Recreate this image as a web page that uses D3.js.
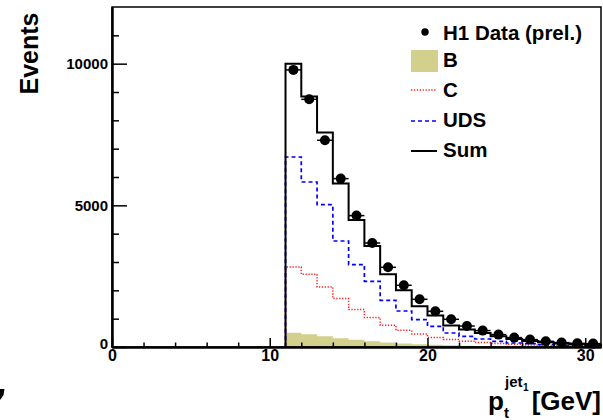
<!DOCTYPE html>
<html><head><meta charset="utf-8">
<script src="https://cdn.jsdelivr.net/npm/d3@7"></script>
<style>
body{margin:0;background:#fff}
svg{display:block}
text{font-family:"Liberation Sans",Arial,Helvetica,sans-serif;font-weight:bold;fill:#000}
</style>
</head><body>
<svg id="c" width="603" height="420"></svg>
<script>
// ---- data ----
const binLowEdges = [11,12,13,14,15,16,17,18,19,20,21,22,23,24,25,26,27,28,29,30];
const binWidth = 1;
const dataValues = [9780,8742,7296,5943,4637,3671,2813,2178,1684,1260,978,741,579,438,332,261,201,155,130,120];
const sumValues  = [10000,8838,7567,5767,4482,3565,2566,2001,1436,1108,755,614,494,378,282,212,166,120,95,71];
const udsValues  = [6706,5824,5025,3741,2908,2319,1648,1271,967,731,494,378,282,201,141,120,85,60,50,40];
const cValues    = [2824,2566,2118,1708,1320,1038,766,589,459,332,261,201,155,120,95,71,60,50,40,35];
const bValues    = [500,450,380,310,260,200,155,120,95,80,60,45,35,25,20,15,12,10,8,6];
const xMajorTicks = [0,10,20,30];
const xMinorTicks = [2,4,6,8,12,14,16,18,22,24,26,28];
const yMajorTicks = [0,5000,10000];
const yMinorTicks = [1000,2000,3000,4000,6000,7000,8000,9000,11000];
const legendLabels = ["H1 Data (prel.)","B","C","UDS","Sum"];
const xDomain = [0,31];
const yDomain = [0,12000];

// ---- layout ----
const L = 112, T = 7, R = 601, B = 347;
const svg = d3.select("#c");
const x = d3.scaleLinear().domain(xDomain).range([L, R]);
const y = d3.scaleLinear().domain(yDomain).range([B, T]);

function histPoints(vals){
  const pts = [[binLowEdges[0], 0]];
  vals.forEach((v,i)=>{
    pts.push([binLowEdges[i], v]);
    pts.push([binLowEdges[i] + binWidth, v]);
  });
  pts.push([binLowEdges[binLowEdges.length-1] + binWidth, 0]);
  return pts;
}
const line = d3.line().x(d=>x(d[0])).y(d=>y(d[1]));
const area = d3.area().x(d=>x(d[0])).y0(y(0)).y1(d=>y(d[1]));

const plot = svg.append("g");
// B filled
plot.append("path").attr("d", area(histPoints(bValues)))
  .attr("fill","#d3cf8c").attr("stroke","none");
// C dotted red
plot.append("path").attr("d", line(histPoints(cValues)))
  .attr("fill","none").attr("stroke","#ff2020").attr("stroke-width",1.5)
  .attr("stroke-dasharray","1.3,1.6");
// UDS dashed blue
plot.append("path").attr("d", line(histPoints(udsValues)))
  .attr("fill","none").attr("stroke","#0000ff").attr("stroke-width",1.7)
  .attr("stroke-dasharray","4,3");
// Sum solid black
plot.append("path").attr("d", line(histPoints(sumValues)))
  .attr("fill","none").attr("stroke","#000").attr("stroke-width",2);

// data points with horizontal error bars
const pts = plot.append("g");
dataValues.forEach((v,i)=>{
  pts.append("line")
    .attr("x1", x(binLowEdges[i])).attr("x2", x(binLowEdges[i]+binWidth))
    .attr("y1", y(v)).attr("y2", y(v))
    .attr("stroke","#000").attr("stroke-width",1.5);
  pts.append("circle")
    .attr("cx", x(binLowEdges[i]+binWidth/2)).attr("cy", y(v))
    .attr("r",5).attr("fill","#000");
});

// frame
svg.append("rect").attr("x",L).attr("y",T).attr("width",R-L).attr("height",B-T)
  .attr("fill","none").attr("stroke","#000").attr("stroke-width",1.5);

// axes
const yAxis = svg.append("g").attr("transform",`translate(${L},0)`)
  .call(d3.axisLeft(y).tickValues(yMajorTicks).tickSizeInner(-15).tickSizeOuter(0).tickPadding(4).tickFormat(d3.format("d")));
const yMinor = svg.append("g").attr("transform",`translate(${L},0)`)
  .call(d3.axisLeft(y).tickValues(yMinorTicks).tickSizeInner(-7).tickSizeOuter(0).tickFormat(""));
const xAxis = svg.append("g").attr("transform",`translate(0,${B})`)
  .call(d3.axisBottom(x).tickValues(xMajorTicks).tickSizeInner(-9).tickSizeOuter(0).tickPadding(3).tickFormat(d3.format("d")));
const xMinor = svg.append("g").attr("transform",`translate(0,${B})`)
  .call(d3.axisBottom(x).tickValues(xMinorTicks).tickSizeInner(-4.5).tickSizeOuter(0).tickFormat(""));
[yAxis,yMinor,xAxis,xMinor].forEach(g=>{
  g.selectAll(".domain").attr("stroke","#000").attr("stroke-width",2);
  g.selectAll(".tick line").attr("stroke","#000").attr("stroke-width",1.5);
});
yAxis.selectAll(".tick text").attr("font-size",15).attr("font-family",null);
xAxis.selectAll(".tick text").attr("font-size",16).attr("font-family",null);
yAxis.selectAll(".tick text").filter(d=>d===0).attr("dy","0.1em");

// axis titles
svg.append("text").attr("transform","translate(38,53.5) rotate(-90)")
  .attr("text-anchor","middle").attr("font-size",25).text("Events");
const xt = svg.append("g");
xt.append("text").attr("x",488).attr("y",410).attr("font-size",26).text("p");
xt.append("text").attr("x",504).attr("y",418).attr("font-size",15).text("t");
xt.append("text").attr("x",505).attr("y",387).attr("font-size",15).text("jet");
xt.append("text").attr("x",523).attr("y",391).attr("font-size",10).text("1");
xt.append("text").attr("x",601).attr("y",410).attr("text-anchor","end").attr("font-size",26).text("[GeV]");

// legend
const lg = svg.append("g");
const lgBase = [39.5,67,97,127,157];
const lgMid  = [32,60.5,90,121,151];
lg.append("circle").attr("cx",425).attr("cy",lgMid[0]).attr("r",3.7).attr("fill","#000");
lg.append("rect").attr("x",411).attr("y",50).attr("width",27).attr("height",22).attr("fill","#d3cf8c");
lg.append("line").attr("x1",411).attr("x2",437).attr("y1",lgMid[2]).attr("y2",lgMid[2])
  .attr("stroke","#ff2020").attr("stroke-width",1.5).attr("stroke-dasharray","1.3,1.6");
lg.append("line").attr("x1",411).attr("x2",437).attr("y1",lgMid[3]).attr("y2",lgMid[3])
  .attr("stroke","#0000ff").attr("stroke-width",1.7).attr("stroke-dasharray","4,3");
lg.append("line").attr("x1",411).attr("x2",437).attr("y1",lgMid[4]).attr("y2",lgMid[4])
  .attr("stroke","#000").attr("stroke-width",2);
legendLabels.forEach((t,i)=>{
  lg.append("text").attr("x",443).attr("y",lgBase[i]).attr("font-size",20.5).text(t);
});

// small clipped glyph fragment at bottom-left edge
svg.append("path").attr("d","M0,389 L4.5,389 L3.5,395 L0.5,399.5 L0,399.5 Z").attr("fill","#000");
</script>
</body></html>
